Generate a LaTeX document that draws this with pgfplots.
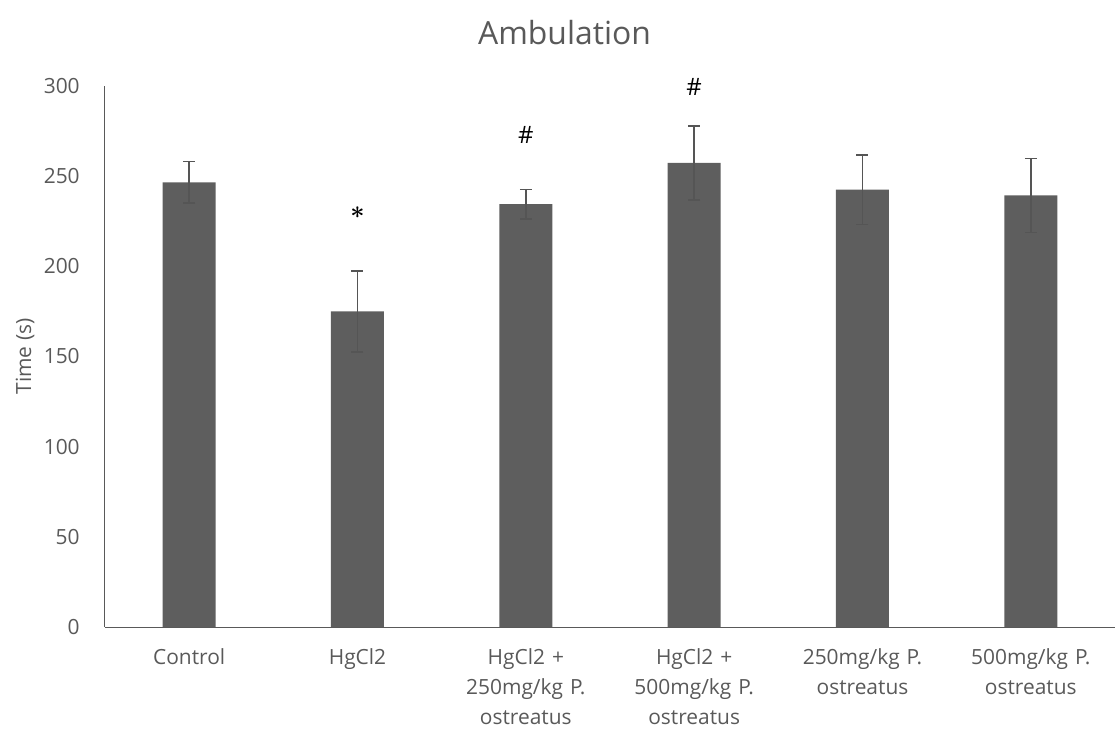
\documentclass[border=0pt]{standalone}
\usepackage{pgfplots}
\pgfplotsset{compat=1.18}
\usepackage{fontspec}
\setmainfont{Open Sans}
\definecolor{txtgray}{HTML}{595959}
\definecolor{barfill}{HTML}{5E5E5E}
\definecolor{errgray}{HTML}{555555}
\begin{document}
\begin{tikzpicture}
\begin{axis}[
  at={(0,0)}, anchor=south west,
  scale only axis, width=1010bp, height=541bp,
  ymin=0, ymax=300, ytick={0,50,...,300},
  xmin=-0.5, xmax=5.5,
  xtick={0,1,2,3,4,5},
  xticklabels={Control, HgCl2, {HgCl2 +\\250mg/kg P.\\ostreatus}, {HgCl2 +\\500mg/kg P.\\ostreatus}, {250mg/kg P.\\ostreatus}, {500mg/kg P.\\ostreatus}},
  axis x line=bottom, axis y line=left,
  axis line style={-, draw=txtgray, line width=1bp},
  major tick style={draw=none},
  tick label style={font=\fontsize{21}{30.5}\selectfont, text=txtgray},
  /pgf/number format/assume math mode=true,
  yticklabel style={inner sep=0pt, xshift=-23bp},
  xticklabel style={inner sep=0pt, text width=170bp, align=center, anchor=north, yshift=-19bp},
  title={Ambulation},
  title style={font=\fontsize{32}{38}\selectfont, text=txtgray, at={(0.455,1)}, anchor=center, yshift=47bp},
  ylabel={Time (s)},
  ylabel style={font=\fontsize{21}{25}\selectfont, text=txtgray, at={(axis description cs:-0.0792,0.5)}, anchor=center, rotate=0},
  clip=false,
]
% group means with standard error
\addplot[ybar, bar width=53bp, fill=barfill, draw=none,
  error bars/.cd, y dir=both, y explicit,
  error bar style={draw=errgray, line width=1.5bp},
  error mark options={rotate=90, mark size=6bp, line width=1.5bp, draw=errgray}]
  coordinates {
    (0,246.5) +- (0,11.5)
    (1,175.0) +- (0,22.5)
    (2,234.5) +- (0,8.2)
    (3,257.3) +- (0,20.5)
    (4,242.5) +- (0,19.2)
    (5,239.3) +- (0,20.5)
  };
% significance markers
\addplot[only marks, mark=none, nodes near coords, point meta=explicit symbolic,
  every node near coord/.style={anchor=center, inner sep=0pt, font=\fontsize{24}{28}\selectfont, text=black}]
  coordinates {
    (2,272.9) [\#]
    (3,299.7) [\#]
  };
\addplot[only marks, mark=none, nodes near coords, point meta=explicit symbolic,
  every node near coord/.style={anchor=center, inner sep=0pt, font=\fontsize{30}{34}\selectfont\boldmath, text=black}]
  coordinates {
    (1,229.6) [$\ast$]
  };
\end{axis}
\pgfresetboundingbox
\path[use as bounding box] (-105bp,-102bp) rectangle (1010bp,627bp);
\end{tikzpicture}
\end{document}
